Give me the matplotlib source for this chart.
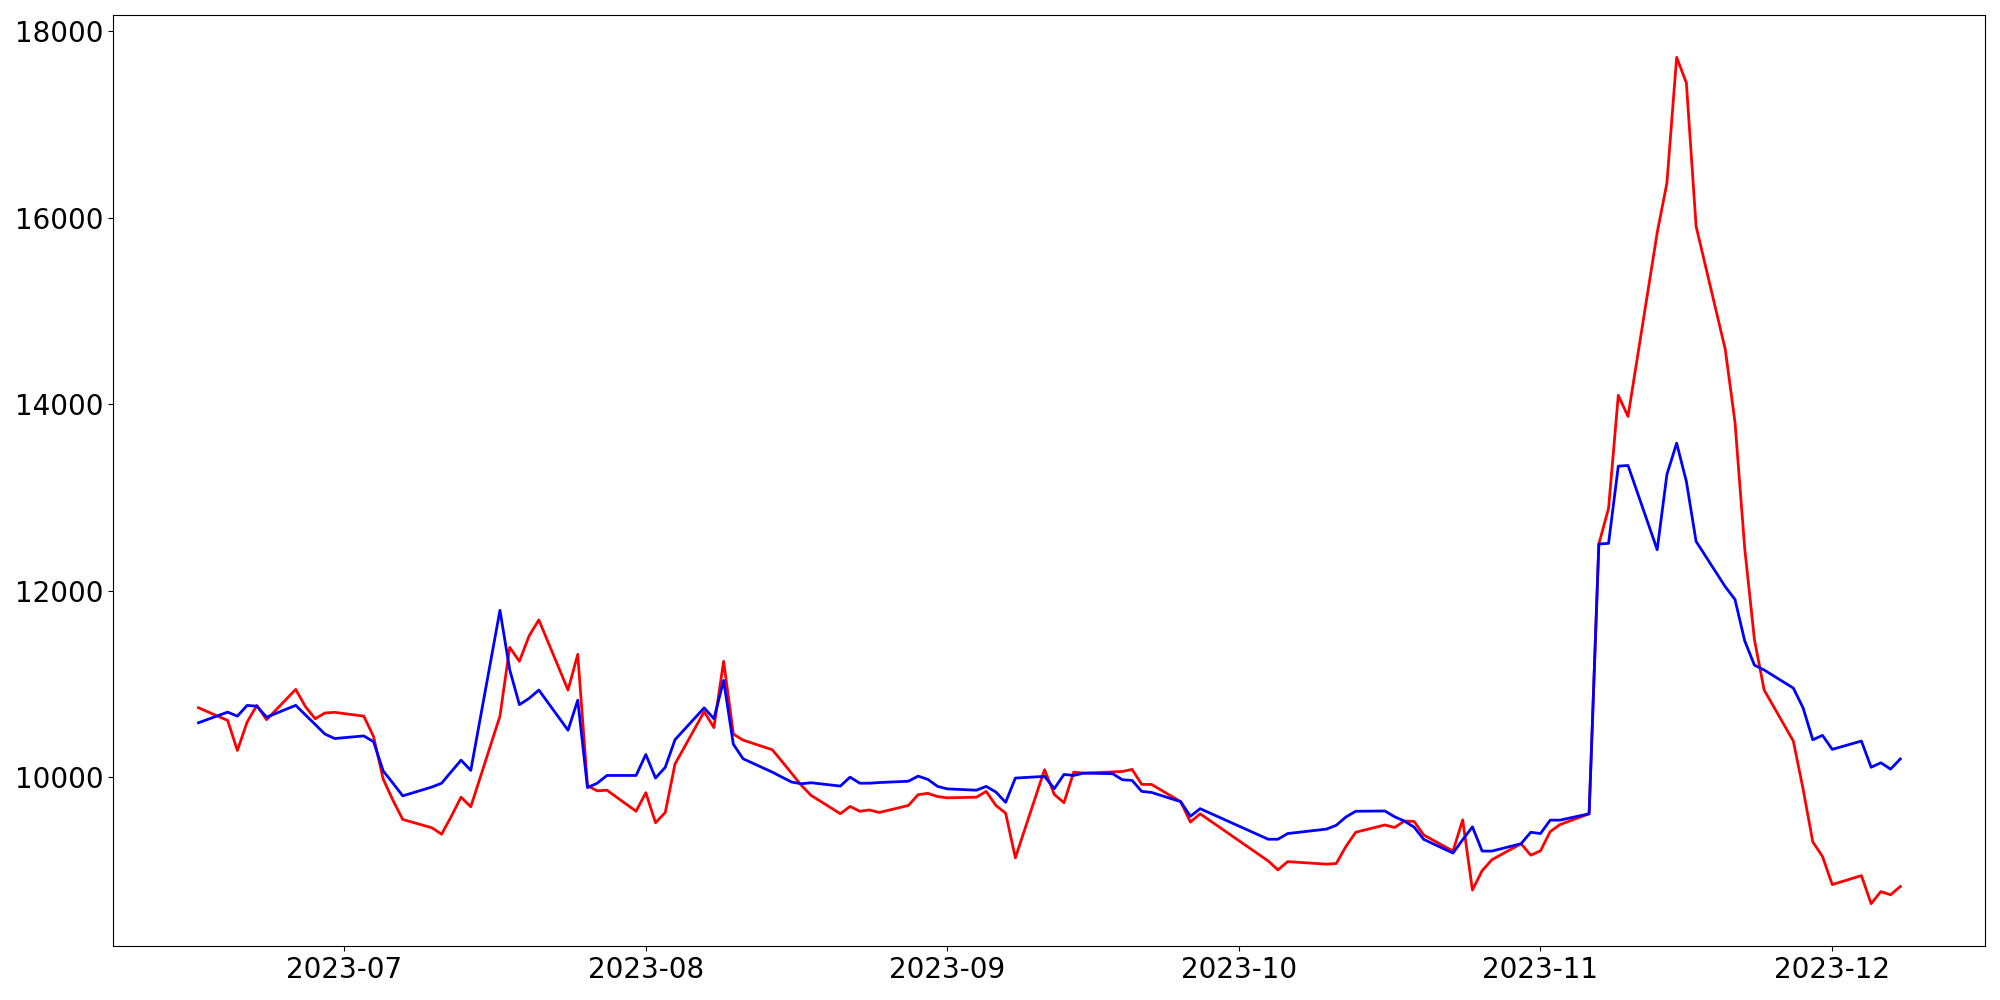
import matplotlib
matplotlib.use("Agg")
import matplotlib.pyplot as plt
import pandas as pd

dates = [
    "2023-06-16", "2023-06-19", "2023-06-20", "2023-06-21", "2023-06-22", "2023-06-23",
    "2023-06-26", "2023-06-27", "2023-06-28", "2023-06-29", "2023-06-30",
    "2023-07-03", "2023-07-04", "2023-07-05", "2023-07-06", "2023-07-07",
    "2023-07-10", "2023-07-11", "2023-07-12", "2023-07-13", "2023-07-14",
    "2023-07-17", "2023-07-18", "2023-07-19", "2023-07-20", "2023-07-21",
    "2023-07-24", "2023-07-25", "2023-07-26", "2023-07-27", "2023-07-28", "2023-07-31",
    "2023-08-01", "2023-08-02", "2023-08-03", "2023-08-04",
    "2023-08-07", "2023-08-08", "2023-08-09", "2023-08-10", "2023-08-11",
    "2023-08-14", "2023-08-15", "2023-08-16", "2023-08-17", "2023-08-18",
    "2023-08-21", "2023-08-22", "2023-08-23", "2023-08-24", "2023-08-25",
    "2023-08-28", "2023-08-29", "2023-08-30", "2023-08-31", "2023-09-01",
    "2023-09-04", "2023-09-05", "2023-09-06", "2023-09-07", "2023-09-08",
    "2023-09-11", "2023-09-12", "2023-09-13", "2023-09-14", "2023-09-15",
    "2023-09-18", "2023-09-19", "2023-09-20", "2023-09-21", "2023-09-22",
    "2023-09-25", "2023-09-26", "2023-09-27",
    "2023-10-04", "2023-10-05", "2023-10-06",
    "2023-10-10", "2023-10-11", "2023-10-12", "2023-10-13",
    "2023-10-16", "2023-10-17", "2023-10-18", "2023-10-19", "2023-10-20",
    "2023-10-23", "2023-10-24", "2023-10-25", "2023-10-26", "2023-10-27",
    "2023-10-30", "2023-10-31", "2023-11-01", "2023-11-02", "2023-11-03",
    "2023-11-06", "2023-11-07", "2023-11-08", "2023-11-09", "2023-11-10",
    "2023-11-13", "2023-11-14", "2023-11-15", "2023-11-16", "2023-11-17",
    "2023-11-20", "2023-11-21", "2023-11-22", "2023-11-23", "2023-11-24",
    "2023-11-27", "2023-11-28", "2023-11-29", "2023-11-30", "2023-12-01",
    "2023-12-04", "2023-12-05", "2023-12-06", "2023-12-07", "2023-12-08",
]

red_values = [
    10747, 10611, 10289, 10593, 10772, 10619,
    10944, 10759, 10629, 10691, 10698,
    10657, 10438, 9980, 9754, 9549,
    9460, 9391, 9583, 9788, 9685,
    10657, 11395, 11245, 11518, 11689,
    10937, 11320, 9911, 9856, 9863, 9637,
    9836, 9514, 9624, 10144,
    10705, 10534, 11245, 10465, 10400,
    10297, 10172, 10043, 9914, 9807,
    9611, 9689, 9637, 9651, 9624,
    9699, 9815, 9829, 9795, 9781,
    9788, 9850, 9699, 9617, 9138,
    10083, 9818, 9729, 10057, 10046,
    10059, 10064, 10086, 9925, 9925,
    9740, 9521, 9610,
    9104, 9008, 9097,
    9070, 9077, 9261, 9412,
    9490, 9463, 9532, 9528, 9382,
    9210, 9545, 8792, 9000, 9117,
    9289, 9166, 9213, 9419, 9494,
    9610, 12503, 12886, 14097, 13871,
    15841, 16375, 17722, 17449, 15910,
    14590, 13810, 12456, 11477, 10937,
    10390, 9877, 9309, 9152, 8851,
    8947, 8646, 8776, 8741, 8830,
]

blue_values = [
    10586, 10700, 10657, 10772, 10764, 10646,
    10773, 10670, 10568, 10465, 10417,
    10445, 10383, 10068, 9938, 9802,
    9897, 9938, 10062, 10185, 10075,
    11792, 11156, 10780, 10848, 10937,
    10506, 10828, 9891, 9938, 10021, 10021,
    10246, 9993, 10109, 10404,
    10746, 10629, 11040, 10356, 10200,
    10057, 10003, 9950, 9932, 9943,
    9907, 10003, 9938, 9938, 9945,
    9959, 10014, 9979, 9904, 9877,
    9863, 9904, 9843, 9733, 9993,
    10011, 9879, 10032, 10021, 10046,
    10040, 9975, 9968, 9850, 9839,
    9740, 9583, 9665,
    9337, 9337, 9398,
    9446, 9487, 9576, 9637,
    9640, 9578, 9532, 9467, 9335,
    9189, 9332, 9470, 9210, 9210,
    9289, 9412, 9398, 9542, 9542,
    9610, 12503, 12510, 13338, 13345,
    12442, 13249, 13584, 13174, 12531,
    12045, 11908, 11464, 11204, 11152,
    10958, 10746, 10404, 10451, 10301,
    10390, 10109, 10157, 10089, 10198,
]

x = pd.to_datetime(dates)

fig, ax = plt.subplots(figsize=(20, 10), dpi=100)
ax.plot(x, red_values, color="red", linewidth=2)
ax.plot(x, blue_values, color="blue", linewidth=2)
ax.tick_params(axis="both", labelsize=20)
fig.subplots_adjust(left=0.0567, right=0.9927, top=0.985, bottom=0.054)
fig.savefig("out.png", dpi=100)
